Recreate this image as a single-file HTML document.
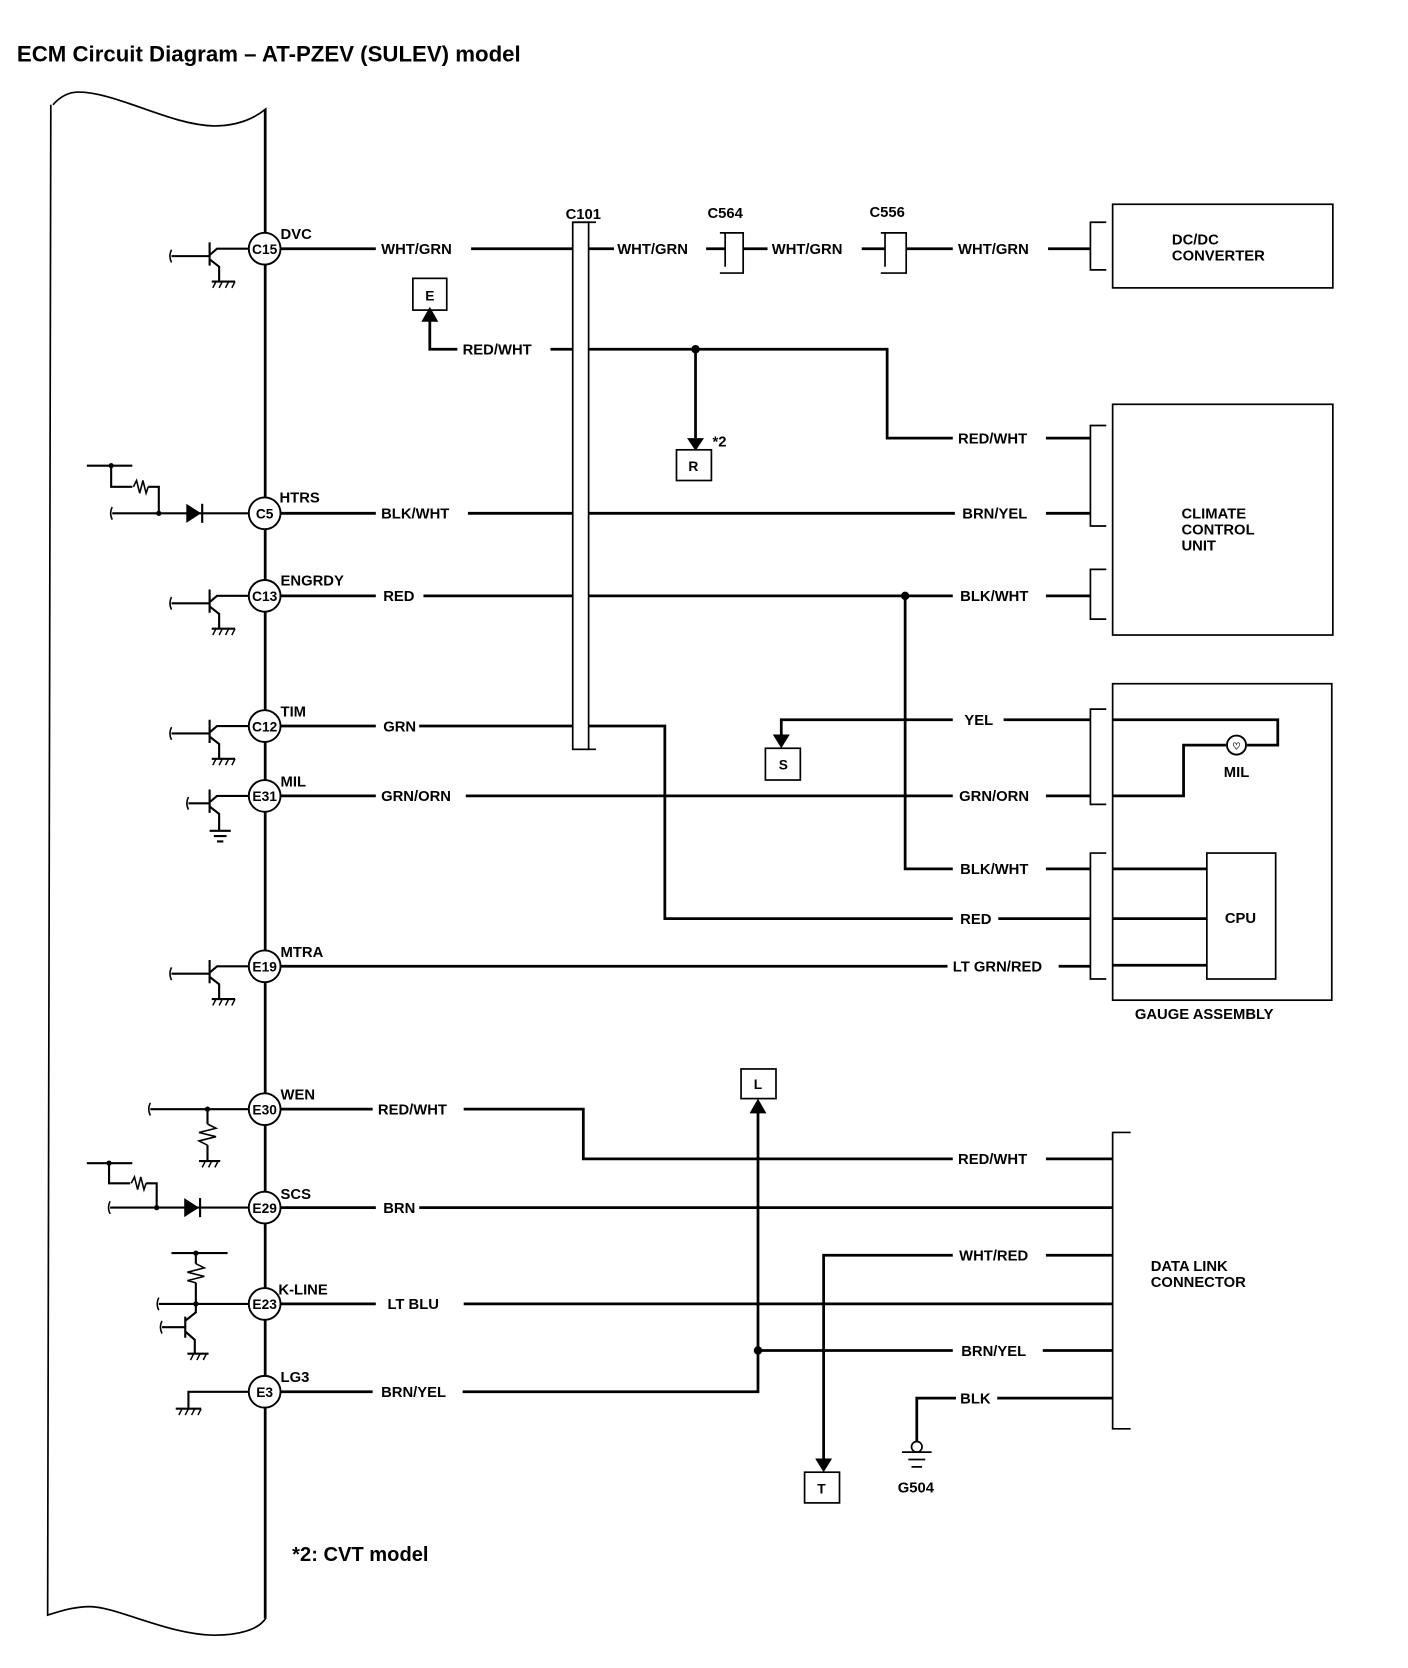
<!DOCTYPE html>
<html><head><meta charset="utf-8"><style>
html,body{margin:0;padding:0;background:#fff}
svg{display:block}
text{font-family:"Liberation Sans",Arial,sans-serif;font-weight:bold;fill:#000}
</style></head><body>
<svg width="1408" height="1668" viewBox="0 0 1330 1576" preserveAspectRatio="none" xmlns="http://www.w3.org/2000/svg">
<g stroke="#000" fill="none" stroke-linecap="butt">
<!-- ECM outline -->
<path d="M50,99 C58,90 66,87 74,87 C110,87 160,118 202,119 C225,119 240,112 251,103 L251,1529 C244,1540 225,1545 203,1545 C160,1545 110,1518 85,1518 C70,1518 58,1522 45,1526 L48,99" stroke-width="1.6"/>
<!-- pin column line -->
<path d="M250,103 L250,1529" stroke-width="1.6"/>
</g>
<!-- pin circles -->
<g stroke="#000" stroke-width="1.8" fill="#fff">
<circle cx="250" cy="235" r="15"/><circle cx="250" cy="485" r="15"/><circle cx="250" cy="563" r="15"/>
<circle cx="250" cy="686" r="15"/><circle cx="250" cy="752" r="15"/><circle cx="250" cy="913" r="15"/>
<circle cx="250" cy="1048" r="15"/><circle cx="250" cy="1141" r="15"/><circle cx="250" cy="1232" r="15"/>
<circle cx="250" cy="1315" r="15"/>
</g>
<g font-size="13" text-anchor="middle">
<text x="250" y="240">C15</text><text x="250" y="490">C5</text><text x="250" y="568">C13</text>
<text x="250" y="691">C12</text><text x="250" y="757">E31</text><text x="250" y="918">E19</text>
<text x="250" y="1053">E30</text><text x="250" y="1146">E29</text><text x="250" y="1237">E23</text>
<text x="250" y="1320">E3</text>
</g>
<g font-size="14">
<text x="265" y="226">DVC</text><text x="264" y="475">HTRS</text><text x="265" y="553">ENGRDY</text>
<text x="265" y="677">TIM</text><text x="265" y="743">MIL</text><text x="265" y="904">MTRA</text>
<text x="265" y="1039">WEN</text><text x="265" y="1133">SCS</text><text x="263" y="1223">K-LINE</text>
<text x="265" y="1306">LG3</text>
</g>
<text x="16" y="58" font-size="21">ECM Circuit Diagram – AT-PZEV (SULEV) model</text>
<text x="276" y="1475" font-size="19">*2: CVT model</text>

<!-- wires -->
<g stroke="#000" stroke-width="2.6" fill="none">
<!-- C15 -->
<path d="M265,235H355 M445,235H541 M556,235H580 M667,235H685 M702,235H725 M814,235H836 M856,235H900 M990,235H1030"/>
<!-- RED/WHT -->
<path d="M406,302V330H432 M520,330H541 M556,330H838V414H900 M988,414H1030 M657,330V414"/>
<!-- C5 -->
<path d="M265,485H355 M442,485H541 M556,485H902 M988,485H1030"/>
<!-- C13 -->
<path d="M265,563H355 M400,563H900 M988,563H1030 M855,563V821H900 M988,821H1030"/>
<!-- C12 -->
<path d="M265,686H355 M396,686H541 M556,686H628V868H900 M943,868H1030"/>
<!-- YEL -->
<path d="M738,696V680H900 M948,680H1030"/>
<!-- E31 -->
<path d="M265,752H355 M440,752H900 M988,752H1030"/>
<!-- E19 -->
<path d="M265,913H895 M1000,913H1030"/>
<!-- E30 -->
<path d="M265,1048H352 M438,1048H551V1095H900 M988,1095H1051"/>
<!-- E29 -->
<path d="M265,1141H355 M396,1141H1051"/>
<!-- WHT/RED -->
<path d="M778,1380V1186H900 M988,1186H1051"/>
<!-- E23 -->
<path d="M265,1232H355 M438,1232H1051"/>
<!-- BRN/YEL -->
<path d="M716,1276H900 M985,1276H1051"/>
<!-- E3 -->
<path d="M265,1315H352 M437,1315H716V1050"/>
<!-- BLK -->
<path d="M866,1362V1321H903 M942,1321H1051"/>
<!-- gauge internal -->
<path d="M1051,680H1207V704H1178 M1158,704H1118V752H1051 M1051,821H1140 M1051,868H1140 M1051,912H1140"/>
</g>
<!-- dots -->
<g fill="#000">
<circle cx="657" cy="330" r="4"/><circle cx="855" cy="563" r="4"/><circle cx="716" cy="1276" r="4"/>
<!-- arrowheads -->
<path d="M398,304 L414,304 L406,290 Z"/>
<path d="M649,414 L665,414 L657,426 Z"/>
<path d="M730,694 L746,694 L738,707 Z"/>
<path d="M708,1052 L724,1052 L716,1038 Z"/>
<path d="M770,1378 L786,1378 L778,1391 Z"/>
</g>
<!-- connector boxes / brackets -->
<g stroke="#000" stroke-width="1.6" fill="none">
<rect x="541" y="210" width="15" height="498" fill="#fff"/>
<path d="M541,210H563 M556,708H563"/>
<path d="M685,220V252 M680,220H702V258H680"/>
<path d="M836,220V252 M832,220H856V258H832"/>
<path d="M1045,210H1030V255H1045"/>
<rect x="1051" y="193" width="208" height="79"/>
<path d="M1045,402H1030V497H1045"/>
<path d="M1045,538H1030V585H1045"/>
<rect x="1051" y="382" width="208" height="218"/>
<rect x="1051" y="646" width="207" height="299"/>
<path d="M1045,670H1030V760H1045"/>
<path d="M1045,806H1030V925H1045"/>
<rect x="1140" y="806" width="65" height="119"/>
<circle cx="1168" cy="704" r="9" stroke-width="1.8"/>
<path d="M1068,1070H1051V1350H1068"/>
<rect x="390" y="263" width="32" height="30"/>
<rect x="639" y="425" width="33" height="29"/>
<rect x="723" y="707" width="33" height="30"/>
<rect x="700" y="1010" width="33" height="28"/>
<rect x="760" y="1391" width="33" height="29"/>
<!-- G504 ground -->
<circle cx="866" cy="1367" r="5"/>
<path d="M852,1372H880 M858,1379H874 M861,1386H871"/>
</g>
<g font-size="13" text-anchor="middle">
<text x="406" y="284">E</text><text x="655" y="445">R</text><text x="740" y="727">S</text>
<text x="716" y="1029">L</text><text x="776" y="1411">T</text>
<text x="1168" y="708" font-size="9">♡</text>
</g>
<!-- wire labels -->
<g font-size="14">
<text x="360" y="240">WHT/GRN</text>
<text x="551" y="207" text-anchor="middle">C101</text>
<text x="583" y="240">WHT/GRN</text>
<text x="685" y="206" text-anchor="middle">C564</text>
<text x="729" y="240">WHT/GRN</text>
<text x="838" y="205" text-anchor="middle">C556</text>
<text x="905" y="240">WHT/GRN</text>
<text x="437" y="335">RED/WHT</text>
<text x="673" y="422">*2</text>
<text x="905" y="419">RED/WHT</text>
<text x="360" y="490">BLK/WHT</text>
<text x="909" y="490">BRN/YEL</text>
<text x="362" y="568">RED</text>
<text x="907" y="568">BLK/WHT</text>
<text x="362" y="691">GRN</text>
<text x="911" y="685">YEL</text>
<text x="360" y="757">GRN/ORN</text>
<text x="906" y="757">GRN/ORN</text>
<text x="907" y="826">BLK/WHT</text>
<text x="907" y="873">RED</text>
<text x="900" y="918">LT GRN/RED</text>
<text x="357" y="1053">RED/WHT</text>
<text x="905" y="1100">RED/WHT</text>
<text x="362" y="1146">BRN</text>
<text x="906" y="1191">WHT/RED</text>
<text x="366" y="1237">LT BLU</text>
<text x="908" y="1281">BRN/YEL</text>
<text x="360" y="1320">BRN/YEL</text>
<text x="907" y="1326">BLK</text>
<text x="848" y="1410">G504</text>
<text x="1107" y="231">DC/DC</text><text x="1107" y="246">CONVERTER</text>
<text x="1116" y="490">CLIMATE</text><text x="1116" y="505">CONTROL</text><text x="1116" y="520">UNIT</text>
<text x="1156" y="734">MIL</text>
<text x="1157" y="872">CPU</text>
<text x="1072" y="963">GAUGE ASSEMBLY</text>
<text x="1087" y="1201">DATA LINK</text><text x="1087" y="1216">CONNECTOR</text>
</g>

<!-- ECM internal circuits -->
<g stroke="#000" stroke-width="2" fill="none">
<!-- transistor template usages -->
<g id="t1"><path d="M235,235H205L198,241 M198,229V251 M162,242H198 M198,245L207,252V265 M200,266H222"/><path d="M162,236Q159,242 162,248" stroke-width="1.5"/></g>
<g transform="translate(0,328)"><path d="M235,235H205L198,241 M198,229V251 M162,242H198 M198,245L207,252V265 M200,266H222"/><path d="M162,236Q159,242 162,248" stroke-width="1.5"/></g>
<g transform="translate(0,451)"><path d="M235,235H205L198,241 M198,229V251 M162,242H198 M198,245L207,252V265 M200,266H222"/><path d="M162,236Q159,242 162,248" stroke-width="1.5"/></g>
<g transform="translate(0,517)"><path d="M235,235H205L198,241 M198,229V251 M178,242H198 M198,245L207,252V268 M198,268H218 M202,273H214 M205,278H211"/><path d="M178,236Q175,242 178,248" stroke-width="1.5"/></g>
<g transform="translate(0,678)"><path d="M235,235H205L198,241 M198,229V251 M162,242H198 M198,245L207,252V265 M200,266H222"/><path d="M162,236Q159,242 162,248" stroke-width="1.5"/></g>
<!-- C5 HTRS diode circuit -->
<path d="M106,485H235 M150,485V460H140 M125,460H105V440 M82,440H125"/>
<path d="M106,479Q103,485 106,491" stroke-width="1.5"/>
<path d="M126,460L129,454L132,466L135,454L138,466L140,460" stroke-width="1.5"/>
<!-- E29 SCS diode circuit -->
<path d="M104,1141H235 M148,1141V1118H138 M123,1118H103V1099 M82,1099H125"/>
<path d="M104,1135Q101,1141 104,1147" stroke-width="1.5"/>
<path d="M124,1118L127,1112L130,1124L133,1112L136,1124L138,1118" stroke-width="1.5"/>
<!-- E30 WEN -->
<path d="M142,1048H235 M196,1048V1062 M196,1082V1096 M188,1097H208"/>
<path d="M142,1042Q139,1048 142,1054" stroke-width="1.5"/>
<path d="M196,1062L204,1066L188,1070L204,1074L188,1078L196,1082" stroke-width="1.5"/>
<!-- E23 K-LINE -->
<path d="M150,1232H235 M185,1232V1212 M185,1194V1184 M162,1184H215 M185,1232V1240L175,1248 M175,1244V1264 M153,1254H175 M175,1258L184,1266V1278 M177,1279H197"/>
<path d="M150,1226Q147,1232 150,1238" stroke-width="1.5"/>
<path d="M153,1248Q150,1254 153,1260" stroke-width="1.5"/>
<path d="M185,1194L193,1198L177,1202L193,1206L177,1210L185,1212" stroke-width="1.5"/>
<!-- E3 LG3 -->
<path d="M235,1315H178V1330 M166,1331H190"/>
</g>
<g fill="#000">
<path d="M176,476V494L190,485Z"/><path d="M191,476V494" stroke="#000" stroke-width="2"/>
<path d="M174,1132V1150L188,1141Z"/><path d="M189,1132V1150" stroke="#000" stroke-width="2"/>
<circle cx="150" cy="485" r="2.5"/><circle cx="105" cy="440" r="2.5"/>
<circle cx="148" cy="1141" r="2.5"/><circle cx="103" cy="1099" r="2.5"/>
<circle cx="196" cy="1048" r="2.5"/><circle cx="185" cy="1232" r="2.5"/><circle cx="185" cy="1184" r="2.5"/>
</g>
<!-- ground hatch marks -->
<g stroke="#000" stroke-width="1.4">
<path d="M204,266l-3,6 M210,266l-3,6 M216,266l-3,6 M222,266l-3,6"/>
<path d="M204,594l-3,6 M210,594l-3,6 M216,594l-3,6 M222,594l-3,6"/>
<path d="M204,717l-3,6 M210,717l-3,6 M216,717l-3,6 M222,717l-3,6"/>
<path d="M204,944l-3,6 M210,944l-3,6 M216,944l-3,6 M222,944l-3,6"/>
<path d="M194,1097l-3,6 M200,1097l-3,6 M206,1097l-3,6"/>
<path d="M183,1279l-3,6 M189,1279l-3,6 M195,1279l-3,6"/>
<path d="M172,1331l-3,6 M178,1331l-3,6 M184,1331l-3,6 M190,1331l-3,6"/>
</g>
</svg>
</body></html>
